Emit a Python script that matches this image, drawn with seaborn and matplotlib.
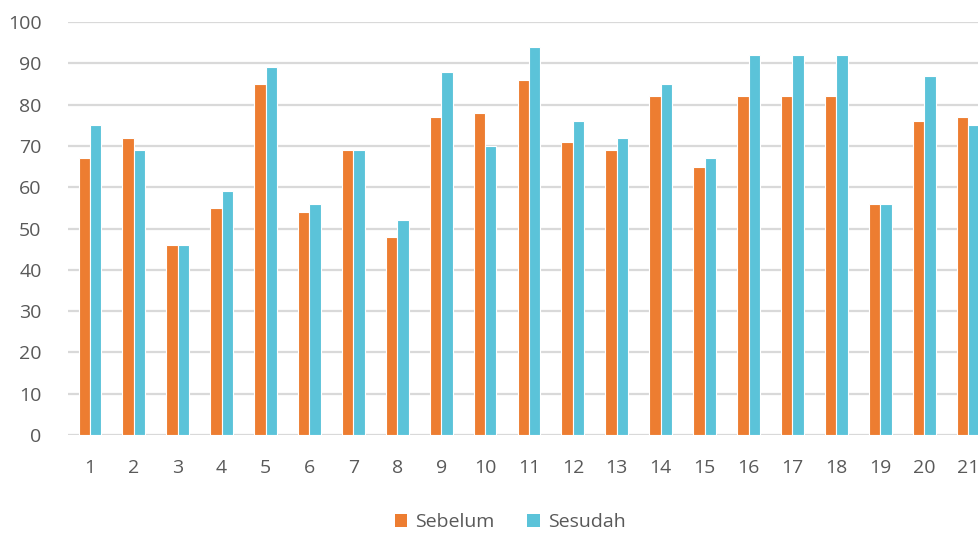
import matplotlib
matplotlib.use("Agg")
import matplotlib.pyplot as plt
import seaborn as sns
import pandas as pd

# Scores per student, before and after
students = [str(i) for i in range(1, 22)]
sebelum = [67, 72, 46, 55, 85, 54, 69, 48, 77, 78, 86, 71, 69, 82, 65, 82, 82, 82, 56, 76, 77]
sesudah = [75, 69, 46, 59, 89, 56, 69, 52, 88, 70, 94, 76, 72, 85, 67, 92, 92, 92, 56, 87, 75]
series_names = ["Sebelum", "Sesudah"]
colors = ["#ED7D31", "#5BC3D9"]
y_ticks = list(range(0, 101, 10))

df = pd.DataFrame({
    "Siswa": students * 2,
    "Nilai": sebelum + sesudah,
    "Kelompok": [series_names[0]] * len(students) + [series_names[1]] * len(students),
})

sns.set_theme(style="white")
plt.rcParams["font.family"] = ["Open Sans", "DejaVu Sans"]

fig = plt.figure(figsize=(9.79, 5.34), dpi=100)
ax = fig.add_axes([68 / 979, (534 - 435) / 534, 1 - 68 / 979, (435 - 22) / 534])

sns.barplot(data=df, x="Siswa", y="Nilai", hue="Kelompok", order=students,
            hue_order=series_names, palette=colors, saturation=1, width=0.52,
            edgecolor="white", linewidth=0.8, ax=ax, legend=False)

ax.set_ylim(0, 100)
ax.set_xlim(-0.5, 20.25)
ax.set_yticks(y_ticks)
ax.set_xlabel("")
ax.set_ylabel("")
ax.grid(axis="y", color="#D9D9D9", linewidth=1.6)
ax.set_axisbelow(True)
for s in ax.spines.values():
    s.set_visible(False)
ax.tick_params(axis="both", length=0, labelsize=14, labelcolor="#595959")
ax.tick_params(axis="x", pad=17)
ax.tick_params(axis="y", pad=19)
for lbl in ax.get_yticklabels():
    lbl.set_horizontalalignment("right")

handles = [plt.Rectangle((0, 0), 1, 1, facecolor=c, edgecolor="none") for c in colors]
fig.legend(handles, series_names, loc="center", bbox_to_anchor=(0.521, 1 - 522 / 534),
           ncol=2, frameon=False, fontsize=14, labelcolor="#595959",
           handlelength=0.65, handleheight=0.65, handletextpad=0.4, columnspacing=1.7)

fig.savefig("out.png", dpi=100)
